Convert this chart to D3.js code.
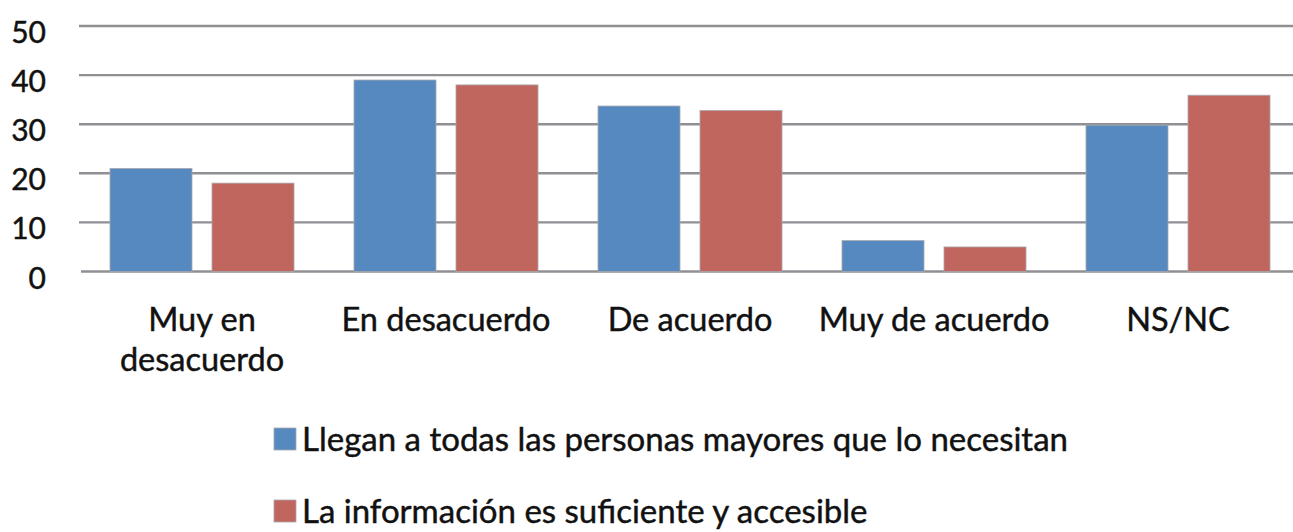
<!DOCTYPE html>
<html lang="es">
  <head>
    <meta charset="UTF-8" />
    <title>Bar chart</title>
    <style>
      body { margin: 0; background: #fff; }
      text { font-family: Lato, "Open Sans", sans-serif; fill: #111; stroke: #111; stroke-width: 0.45px; }
    </style>
  </head>
  <body>
    <div id="wrapper"></div>
    <script src="https://d3js.org/d3.v7.min.js"></script>
    <script>
      // data
      const categories = [["Muy en", "desacuerdo"], ["En desacuerdo"], ["De acuerdo"], ["Muy de acuerdo"], ["NS/NC"]];
      const seriesNames = ["Llegan a todas las personas mayores que lo necesitan", "La información es suficiente y accesible"];
      const llegan = [21, 39, 33.7, 6.3, 29.8];
      const informacion = [18, 38, 32.8, 5, 35.9];
      const yTicks = [0, 10, 20, 30, 40, 50];
      const colors = ["#5689bf", "#c0665f"];

      const width = 1293, height = 532;
      const keys = categories.map(c => c.join(" "));
      const values = [llegan, informacion];

      const svg = d3.select("#wrapper")
        .append("svg")
          .attr("width", width)
          .attr("height", height);

      const x = d3.scaleBand().domain(keys).range([80, 1300]);
      const xSub = d3.scaleBand().domain([0, 1])
        .range([30, x.bandwidth() - 30])
        .paddingInner(0.196);
      const y = d3.scaleLinear().domain([0, 50]).range([271.5, 26]);

      // gridlines
      svg.append("g")
        .selectAll("line")
        .data(yTicks)
        .join("line")
          .attr("x1", d => d === 0 ? 81 : 79)
          .attr("x2", width)
          .attr("y1", d => y(d))
          .attr("y2", d => y(d))
          .attr("stroke", "#8f8f94")
          .attr("stroke-width", 2.4);

      // y axis labels
      const yAxis = svg.append("g")
        .attr("transform", "translate(46,0)")
        .call(d3.axisLeft(y).tickValues(yTicks).tickSize(0).tickPadding(0));
      yAxis.select(".domain").remove();
      yAxis.selectAll("text")
        .attr("font-size", 30)
        .attr("dy", "0.55em")
        .style("font-family", "Lato, sans-serif")
        .attr("fill", "#111");

      // bars
      const groups = svg.append("g")
        .selectAll("g")
        .data(keys)
        .join("g")
          .attr("transform", d => `translate(${x(d)},0)`);

      groups.selectAll("rect")
        .data((d, i) => values.map((v, s) => ({ s, v: v[i] })))
        .join("rect")
          .attr("x", d => xSub(d.s))
          .attr("width", xSub.bandwidth())
          .attr("y", d => y(d.v))
          .attr("height", d => y(0) - y(d.v))
          .attr("fill", d => colors[d.s])
          .attr("stroke", "#a9a9ad")
          .attr("stroke-width", 0.8);

      // category labels
      const cat = svg.append("g")
        .selectAll("text")
        .data(categories)
        .join("text")
          .attr("text-anchor", "middle")
          .attr("font-size", 32.5)
          .attr("transform", (d, i) => `translate(${x(keys[i]) + x.bandwidth() / 2},331)`);
      cat.selectAll("tspan")
        .data(d => d)
        .join("tspan")
          .attr("x", 0)
          .attr("y", (d, i) => i * 40)
          .text(d => d);

      // legend
      const legend = svg.append("g")
        .selectAll("g")
        .data(seriesNames)
        .join("g")
          .attr("transform", (d, i) => `translate(274,${428 + i * 72})`);
      legend.append("rect")
        .attr("width", 22)
        .attr("height", 22)
        .attr("fill", (d, i) => colors[i])
        .attr("stroke", "#a9a9ad")
        .attr("stroke-width", 0.8);
      legend.append("text")
        .attr("x", 28)
        .attr("y", 23)
        .attr("font-size", 33)
        .text(d => d);
    </script>
  </body>
</html>
